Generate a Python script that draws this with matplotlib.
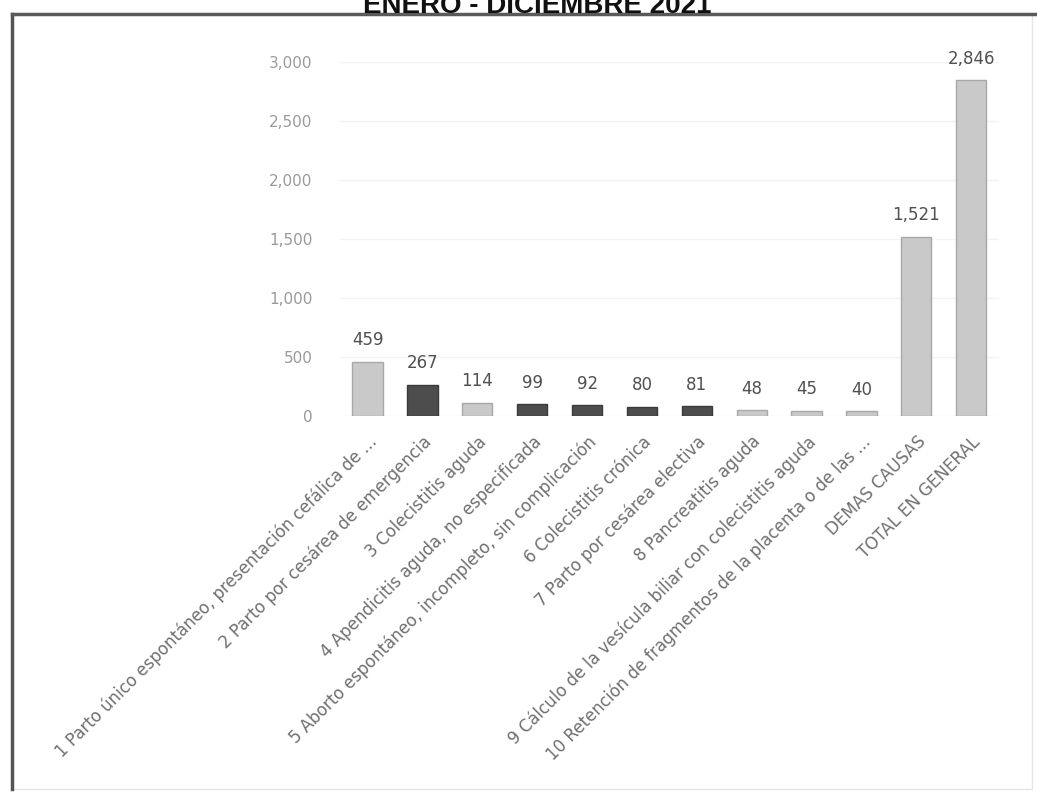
import matplotlib.pyplot as plt
from matplotlib.patches import Rectangle
from matplotlib.ticker import FuncFormatter

# ---- data ----
categories = [
    "1 Parto único espontáneo, presentación cefálica de ...",
    "2 Parto por cesárea de emergencia",
    "3 Colecistitis aguda",
    "4 Apendicitis aguda, no especificada",
    "5 Aborto espontáneo, incompleto, sin complicación",
    "6 Colecistitis crónica",
    "7 Parto por cesárea electiva",
    "8 Pancreatitis aguda",
    "9 Cálculo de la vesícula biliar con colecistitis aguda",
    "10 Retención de fragmentos de la placenta o de las ...",
    "DEMAS CAUSAS",
    "TOTAL EN GENERAL",
]
values = [459, 267, 114, 99, 92, 80, 81, 48, 45, 40, 1521, 2846]
dark_bars = [False, True, False, True, True, True, True, False, False, False, False, False]
title = "ENERO - DICIEMBRE 2021"

plt.rcParams['font.family'] = ['DejaVu Sans']

fig = plt.figure(figsize=(10.37, 7.93), dpi=100)

# frame of the scanned report box
fig.patches.append(Rectangle((12 / 1037, 4 / 793), 1020 / 1037, 775 / 793,
                             transform=fig.transFigure, fill=False,
                             edgecolor='#e6e6e6', linewidth=1))
fig.add_artist(plt.Line2D([12 / 1037, 12 / 1037], [4 / 793, 779 / 793],
                          transform=fig.transFigure, color='#555555', linewidth=2.5))
fig.add_artist(plt.Line2D([12 / 1037, 1037 / 1037], [779 / 793, 779 / 793],
                          transform=fig.transFigure, color='#5a5a5a', linewidth=2.5))

# title sits half outside the page, as in the scanned original
fig.text(537 / 1037, 1 - 13 / 793, title, ha='center', va='baseline',
         fontsize=20, fontweight='bold', family='Liberation Sans', color='#111111')

ax = fig.add_axes([0.328, 0.4754, 0.635, 0.4464])

x = list(range(len(values)))
colors = ['#4d4d4d' if d else '#c9c9c9' for d in dark_bars]
edges = ['#3a3a3a' if d else '#a8a8a8' for d in dark_bars]
ax.bar(x, values, width=0.55, color=colors, edgecolor=edges, linewidth=1, zorder=3)

for xi, v in zip(x, values):
    ax.annotate(f"{v:,}", (xi, v), xytext=(0, 9), textcoords='offset points',
                ha='center', va='bottom', fontsize=12, color='#505050')

ax.set_xlim(-0.5, len(values) - 0.5)
ax.set_ylim(0, 3000)
ax.set_yticks(range(0, 3001, 500))
ax.yaxis.set_major_formatter(FuncFormatter(lambda v, p: f"{int(v):,}"))
ax.grid(axis='y', color='#f3f3f3', linewidth=1, zorder=0)
for sp in ax.spines.values():
    sp.set_visible(False)
ax.tick_params(axis='y', length=0, pad=20, labelsize=11, labelcolor='#9a9a9a')
ax.tick_params(axis='x', length=0, pad=12)

ax.set_xticks(x)
ax.set_xticklabels(categories, rotation=45, ha='right', rotation_mode='anchor',
                   fontsize=12, color='#707070')

fig.savefig('out.png', dpi=100)
